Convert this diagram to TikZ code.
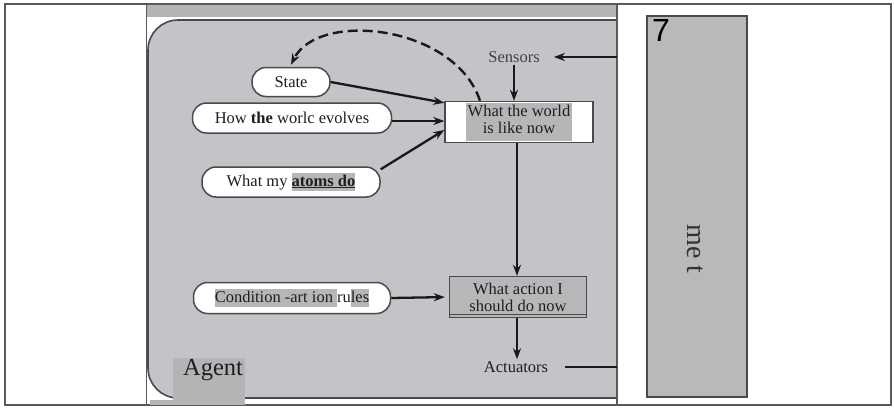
\documentclass[tikz,border=0pt]{standalone}
\usepackage{fontspec}
\setmainfont{Liberation Serif}
\newfontfamily\sansf{Liberation Sans}
\usetikzlibrary{arrows.meta}
\definecolor{bggray}{HTML}{C2C4C8}
\definecolor{bargray}{HTML}{B4B4B6}
\definecolor{edgegray}{HTML}{4A4A4A}
\definecolor{framegray}{HTML}{5A5A5A}
\definecolor{tgray}{HTML}{B6B6B8}
\definecolor{panelgray}{HTML}{B9B9BB}
\definecolor{txt}{HTML}{1E1E1E}
\newcommand{\dfont}{\fontsize{16.5}{16.7}\selectfont}
\newcommand{\gbg}[1]{{\setlength\fboxsep{0pt}\colorbox{tgray}{\rule[-5pt]{0pt}{18pt}#1}}}
\tikzset{
  pill/.style={draw=edgegray, fill=white, line width=1.5pt, rounded corners=14pt,
    inner sep=0pt, font=\dfont, text=txt},
  boxnode/.style={draw=edgegray, line width=1.4pt, inner sep=0pt, font=\dfont, text=txt, align=center},
  lbl/.style={font=\dfont, text=txt, inner sep=2pt},
  arr/.style={-{Stealth[length=11pt,width=8pt]}, line width=2.3pt, black!90},
}
\begin{document}
\begin{tikzpicture}[x=1pt,y=-1pt]
\useasboundingbox (0,0) rectangle (894,408);
\fill[white] (0,0) rectangle (894,408);
% outer frame
\draw[framegray, line width=1.2pt] (5,4) rectangle (891,405);
% inner picture
\fill[bargray] (146,5) rectangle (617,17);
\begin{scope}
  \clip (146,17) rectangle (617,404);
  \draw[fill=bggray, draw=edgegray, line width=1.6pt, rounded corners=30pt] (148,20) rectangle (645,398);
\end{scope}
\fill[bargray] (173,358) rectangle (245,400);
\fill[bargray] (150,400) rectangle (245,405);
\draw[framegray, line width=1pt] (146,5) -- (146,405);
\draw[framegray, line width=1.2pt] (617,5) -- (617,405);

% nodes
\node[pill, minimum width=78pt, minimum height=29pt] (state) at (291,82) {State};
\node[pill, minimum width=199pt, minimum height=30pt] (hwe) at (292,118) {How \textbf{the} worlc evolves};
\node[pill, minimum width=178pt, minimum height=30pt] (wmad) at (291,182) {What my \gbg{\underline{\textbf{atoms do}}}};
\node[pill, minimum width=197pt, minimum height=31pt] (cond) at (292,298) {\gbg{Condition -art ion }ru\gbg{les}};

\node[boxnode, fill=white, minimum width=148pt, minimum height=41pt] (world) at (519,122)
  {\raisebox{-2pt}{\setlength\fboxsep{2pt}\colorbox{tgray}{\begin{tabular}{@{}c@{}}What the world\\is like now\end{tabular}}}};
\node[boxnode, fill=bargray!80!bggray, minimum width=137pt, minimum height=41pt] (action) at (518,297)
  {What action I\\should do now};
\draw[edgegray, line width=1pt] ([yshift=4pt]action.south west) -- ([yshift=4pt]action.south east);

\node[lbl, text=black!75] (sensors) at (514,57) {Sensors};
\node[lbl] (actuators) at (516,367) {Actuators};
\node[font=\fontsize{24.5}{26}\selectfont, text=txt, inner sep=0pt] (agent) at (213,370) {Agent};

\coordinate (inR) at (617,57);
\coordinate (outR) at (617,367);

% connectors
\draw[arr, shorten >=12pt] (inR) -- (sensors.east);
\draw[arr] (sensors.south) -- (sensors.south |- world.north);
\draw[arr] (state.east) -- ([yshift=-2pt]world.north west);
\draw[arr] ([yshift=-3pt]hwe.east) -- ([yshift=-3pt]hwe.east -| world.west);
\draw[arr] ([yshift=-3pt]wmad.north east) -- ([yshift=-8pt]world.west);
\draw[arr, dash pattern=on 10pt off 5pt, line width=2.4pt]
  ([xshift=-39pt]world.north) .. controls (455,25) and (318,10) .. ([yshift=2pt]state.north);
\draw[arr] ([xshift=-2pt]world.south) -- ([xshift=-2pt]world.south |- action.north);
\draw[arr, shorten >=4pt] (cond.east) -- (action.west);
\draw[arr] ([xshift=-1pt]action.south) -- ([xshift=-1pt]action.south |- actuators.north);
\draw[line width=2.3pt, black!90, shorten <=15pt] (actuators.east) -- (outR);

% right panel
\node[draw=edgegray, fill=panelgray, line width=1.2pt, minimum width=100pt, minimum height=381pt, inner sep=0pt] (panel) at (697,206.5) {};
\node[font=\sansf\fontsize{32}{32}\selectfont, inner sep=0pt] (seven) at (661,30) {7};
\node[font=\fontsize{28}{28}\selectfont, text=black!80, rotate=-90, inner sep=0pt] (rot) at (695,249) {me t};
\end{tikzpicture}
\end{document}
